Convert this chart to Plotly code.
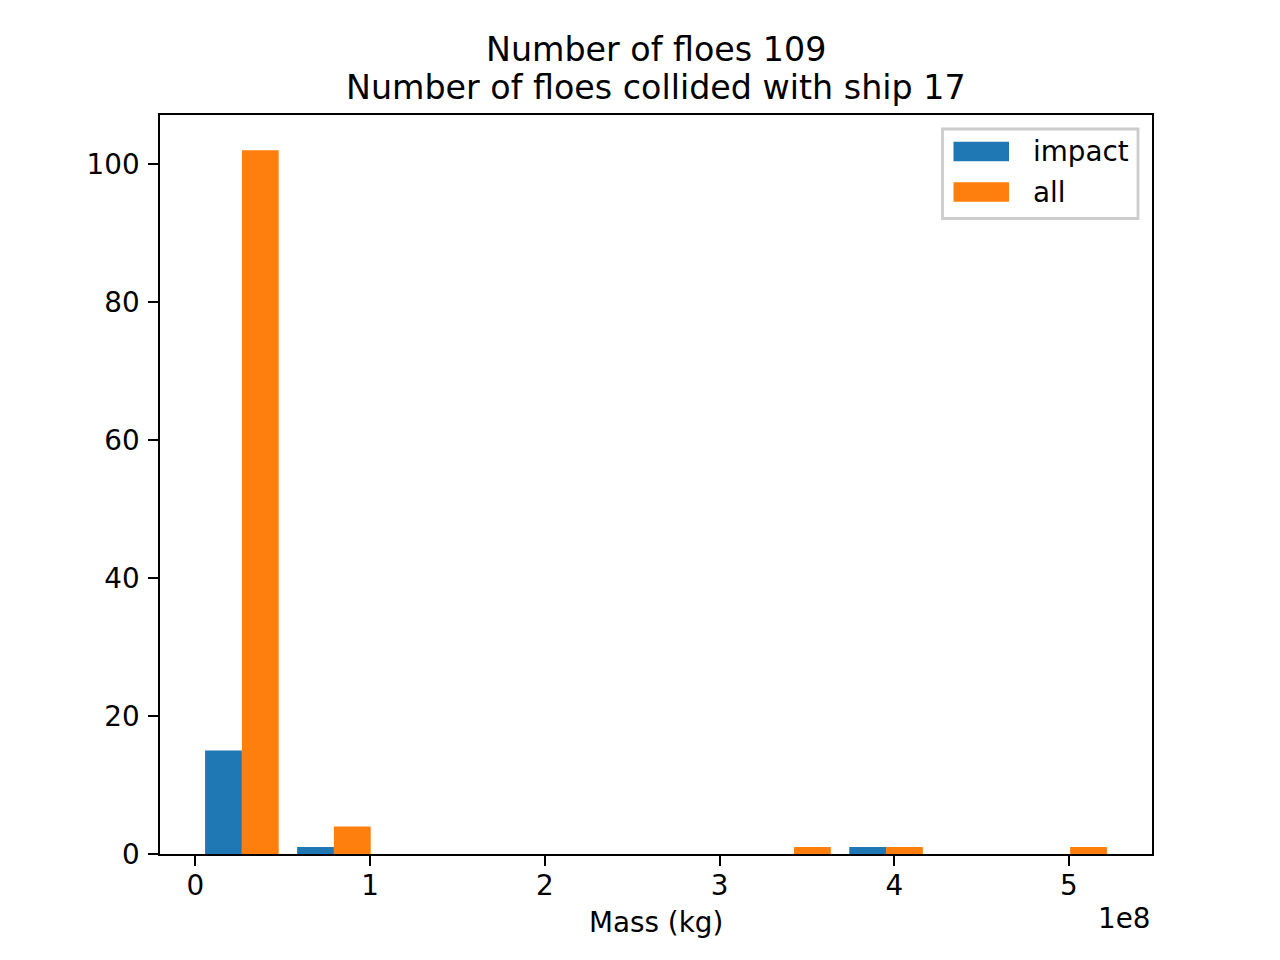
import plotly.graph_objects as go

# ---- data ----
bin_edges = [0.3e6, 52.97e6, 105.64e6, 158.31e6, 210.98e6, 263.65e6,
             316.32e6, 368.99e6, 421.66e6, 474.33e6, 527.0e6]
impact_counts = [15, 1, 0, 0, 0, 0, 0, 1, 0, 0]
all_counts = [102, 4, 0, 0, 0, 0, 1, 1, 0, 1]
series_names = ["impact", "all"]
x_tick_vals = [0, 1e8, 2e8, 3e8, 4e8, 5e8]
x_tick_text = ["0", "1", "2", "3", "4", "5"]
y_tick_vals = [0, 20, 40, 60, 80, 100]
title_lines = ["Number of floes 109", "Number of floes collided with ship 17"]
x_label = "Mass (kg)"
offset_text = "1e8"

BLUE = "#1f77b4"
ORANGE = "#ff7f0e"
FONT = "DejaVu Sans"

W, H = 1280, 960
OFF = 8  # page body margin
L, R, T, B = 160, 1152, 115, 854  # plot area in screen pixels
PW, PH = R - L, B - T

def px_x(p):
    return (p - L) / PW

def px_y(p):
    return (B - p) / PH

centers = [(a + b) / 2 for a, b in zip(bin_edges[:-1], bin_edges[1:])]
widths = [(b - a) for a, b in zip(bin_edges[:-1], bin_edges[1:])]
bar_w = [0.4 * w for w in widths]

fig = go.Figure()
fig.add_trace(go.Bar(x=centers, y=impact_counts, width=bar_w,
                     offset=[-bw for bw in bar_w], name=series_names[0],
                     marker=dict(color=BLUE, line=dict(width=0)),
                     showlegend=False))
fig.add_trace(go.Bar(x=centers, y=all_counts, width=bar_w,
                     offset=[0 for _ in bar_w], name=series_names[1],
                     marker=dict(color=ORANGE, line=dict(width=0)),
                     showlegend=False))

# axis ranges with matplotlib-like 5% margins
lo = bin_edges[0] + 0.1 * widths[0]
hi = bin_edges[-1] - 0.1 * widths[-1]
span = hi - lo
ymax = max(max(impact_counts), max(all_counts))

fig.update_layout(
    width=W, height=H,
    margin=dict(l=L - OFF, r=W - R + OFF, t=T - OFF, b=H - B + OFF, pad=0),
    paper_bgcolor="white", plot_bgcolor="white",
    barmode="overlay",
    font=dict(family=FONT, size=27.8, color="black"),
    xaxis=dict(range=[lo - 0.05 * span, hi + 0.05 * span],
               tickvals=x_tick_vals, ticktext=x_tick_text,
               showgrid=False, zeroline=False,
               showline=True, mirror=True, linecolor="black", linewidth=2.2,
               ticks="outside", ticklen=9.7, tickwidth=2.2, tickcolor="black",
               ticklabelstandoff=-4,
               tickfont=dict(family=FONT, size=27.8, color="black")),
    yaxis=dict(range=[0, ymax * 1.05],
               tickvals=y_tick_vals,
               showgrid=False, zeroline=False,
               showline=True, mirror=True, linecolor="black", linewidth=2.2,
               ticks="outside", ticklen=9.7, tickwidth=2.2, tickcolor="black",
               ticklabelstandoff=3,
               tickfont=dict(family=FONT, size=27.8, color="black")),
)

anns = []
# title lines
anns.append(dict(text=title_lines[0], x=px_x(656), y=px_y(49), xref="paper", yref="paper",
                 xanchor="center", yanchor="middle", showarrow=False,
                 font=dict(family=FONT, size=33.3, color="black")))
anns.append(dict(text=title_lines[1], x=px_x(656), y=px_y(87.5), xref="paper", yref="paper",
                 xanchor="center", yanchor="middle", showarrow=False,
                 font=dict(family=FONT, size=33.3, color="black")))
# x label
anns.append(dict(text=x_label, x=px_x(656), y=px_y(922), xref="paper", yref="paper",
                 xanchor="center", yanchor="middle", showarrow=False,
                 font=dict(family=FONT, size=27.8, color="black")))
# offset text
anns.append(dict(text=offset_text, x=px_x(1152), y=px_y(919), xref="paper", yref="paper",
                 xanchor="right", yanchor="middle", showarrow=False,
                 font=dict(family=FONT, size=27.8, color="black")))

shapes = []
# legend frame
shapes.append(dict(type="rect", xref="paper", yref="paper",
                   x0=px_x(942.5), x1=px_x(1138), y0=px_y(129), y1=px_y(218.5),
                   line=dict(color="#cccccc", width=2.8),
                   fillcolor="rgba(255,255,255,0.8)", layer="above"))
legend_rows = [(series_names[0], BLUE, 151.5), (series_names[1], ORANGE, 192)]
for name, col, yc in legend_rows:
    shapes.append(dict(type="rect", xref="paper", yref="paper",
                       x0=px_x(953.5), x1=px_x(1009), y0=px_y(yc + 9.7), y1=px_y(yc - 9.7),
                       line=dict(width=0), fillcolor=col, layer="above"))
    anns.append(dict(text=name, x=px_x(1031), y=px_y(yc), xref="paper", yref="paper",
                     xanchor="left", yanchor="middle", showarrow=False,
                     font=dict(family=FONT, size=27.8, color="black")))

fig.update_layout(annotations=anns, shapes=shapes)
fig.write_html("out.html")
